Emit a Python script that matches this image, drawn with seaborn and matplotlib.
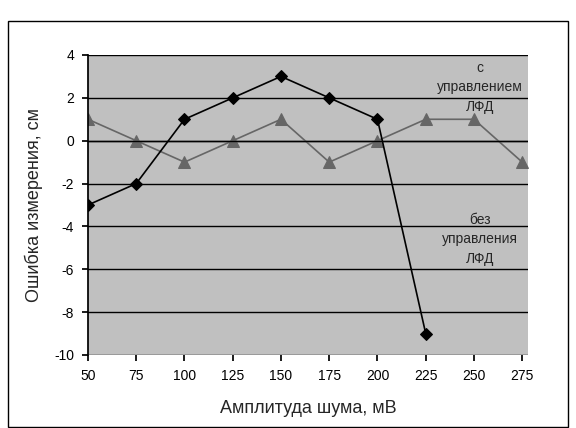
import matplotlib
matplotlib.use("Agg")
import matplotlib.pyplot as plt
import seaborn as sns
import pandas as pd
from matplotlib.patches import Rectangle

amplitudes = [50, 75, 100, 125, 150, 175, 200, 225, 250, 275]
without_ctrl = [-3, -2, 1, 2, 3, 2, 1, -9]
with_ctrl = [1, 0, -1, 0, 1, -1, 0, 1, 1, -1]

df1 = pd.DataFrame({"x": amplitudes[:len(without_ctrl)], "y": without_ctrl})
df2 = pd.DataFrame({"x": amplitudes, "y": with_ctrl})

sns.set_theme(style="white")
plt.rcParams['font.family'] = ['Liberation Sans', 'DejaVu Sans']
plt.rcParams['axes.unicode_minus'] = False

fig = plt.figure(figsize=(5.76, 4.28), dpi=100)
fig.patches.append(Rectangle((8/576, 0.002), 560/576, 1 - 22/428, transform=fig.transFigure,
                             fill=False, edgecolor='black', linewidth=1))
ax = fig.add_axes([88/576, 1 - 355/428, 440/576, 300/428])
ax.set_facecolor('#C0C0C0')

sns.lineplot(data=df2, x="x", y="y", ax=ax, color='#666666', marker='^', markersize=9,
             markeredgecolor='#666666', linewidth=1.2)
sns.lineplot(data=df1, x="x", y="y", ax=ax, color='black', marker='D', markersize=6,
             markeredgecolor='black', linewidth=1.2)

ax.set_xlim(50, 278)
ax.set_ylim(-10, 4)
ax.set_xticks(amplitudes)
ax.set_yticks(range(-10, 5, 2))
ax.grid(axis='y', color='black', linewidth=1)
ax.set_axisbelow(True)
for s in ['top', 'right', 'bottom']:
    ax.spines[s].set_visible(False)
ax.spines['left'].set_color('black')
ax.axhline(0, color='black', linewidth=1)
ax.tick_params(axis='both', labelsize=10, length=4, direction='out', left=True, bottom=True,
               colors='black', pad=6)
ax.set_xlabel('Амплитуда шума, мВ', fontsize=13, labelpad=12)
ax.set_ylabel('Ошибка измерения, см', fontsize=13, labelpad=8)

ax.text(253, 2.5, 'с\nуправлением\nЛФД', ha='center', va='center', fontsize=10, linespacing=1.5)
ax.text(253, -4.6, 'без\nуправления\nЛФД', ha='center', va='center', fontsize=10, linespacing=1.5)

fig.savefig('out.png', dpi=100)
